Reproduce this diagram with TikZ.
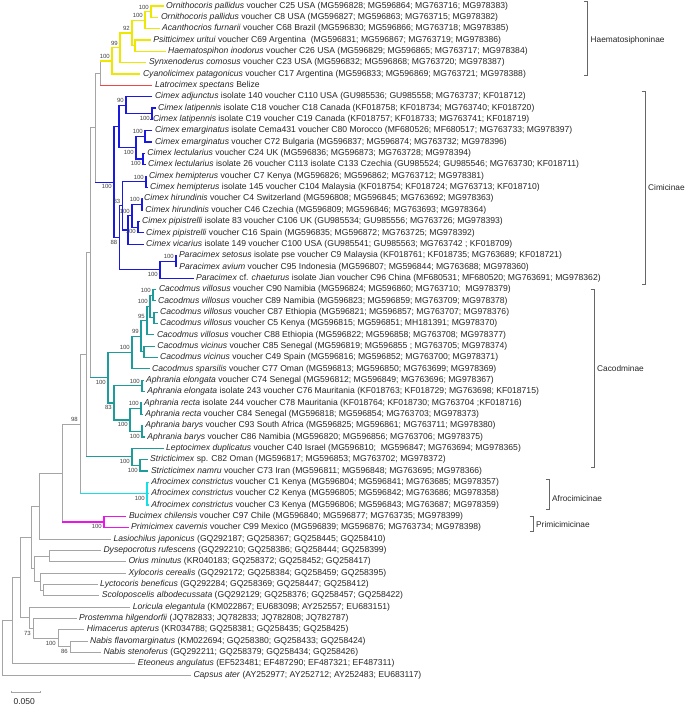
\documentclass[tikz,border=0pt]{standalone}
\usepackage{fontspec}
\setmainfont{Liberation Sans}
\usetikzlibrary{calc, positioning}
\definecolor{haemyel}{RGB}{238,232,0}
\definecolor{latred}{RGB}{240,70,70}
\definecolor{cimblue}{RGB}{25,25,225}
\definecolor{cacteal}{RGB}{30,155,155}
\definecolor{afrcyan}{RGB}{20,225,230}
\definecolor{primag}{RGB}{235,20,235}
\definecolor{treegray}{RGB}{165,165,165}

% leaf: row, x where its text starts, text
\newcommand\leaf[3]{\node[leaf] (l#1) at ({#2-2.5},{6+(#1-1)*11.34}) {#3};}
% join: name, x, upper child, lower child, style
\newcommand\jn[5]{%
  \coordinate (#1-m) at ($(#3)!.5!(#4)$);
  \coordinate (#1) at (#2,0 |- #1-m);
  \draw[#5] (#3) -- (#3 -| #1) -- (#4 -| #1) -- (#4);}
% bootstrap value above / below the branch
\newcommand\bsu[3]{\node[bs, above left=2.4pt and 2pt of #2] (#1) {#3};}
\newcommand\bsd[3]{\node[bs, below left=2.4pt and 2pt of #2] (#1) {#3};}

\begin{document}
\begin{tikzpicture}[x=1pt, y=-1pt,
    leaf/.style={anchor=west, inner xsep=2.5pt, inner ysep=0pt,
                 text height=6.2pt, text depth=1.8pt,
                 font=\fontsize{8.6}{10}\selectfont, text=black!85},
    bs/.style={inner sep=0pt, font=\fontsize{6}{7}\selectfont, text=black!75},
    clade/.style={anchor=west, inner sep=0pt, font=\fontsize{8.3}{10}\selectfont, text=black!85},
    gr/.style={draw=treegray, line width=0.75pt},
    hae/.style={draw=haemyel, line width=1.2pt},
    lto/.style={draw=latred, line width=1.2pt},
    cim/.style={draw=cimblue, line width=1.2pt},
    cac/.style={draw=cacteal, line width=1.2pt},
    afr/.style={draw=afrcyan, line width=1.2pt},
    pri/.style={draw=primag, line width=1.2pt},
    brk/.style={draw=black!60, line width=0.6pt}
  ]
  \useasboundingbox (0,0) rectangle (685,706);

  % taxa
  \leaf{1}{166}{\textit{Ornithocoris pallidus} voucher C25 USA (MG596828; MG596864; MG763716; MG978383)}
  \leaf{2}{160.8}{\textit{Ornithocoris pallidus} voucher C8 USA (MG596827; MG596863; MG763715; MG978382)}
  \leaf{3}{162}{\textit{Acanthocrios furnarii} voucher C68 Brazil (MG596830; MG596866; MG763718; MG978385)}
  \leaf{4}{153.2}{\textit{Psitticimex uritui} voucher C69 Argentina\ \ (MG596831; MG596867; MG763719; MG978386)}
  \leaf{5}{168}{\textit{Haematospihon inodorus} voucher C26 USA (MG596829; MG596865; MG763717; MG978384)}
  \leaf{6}{148.8}{\textit{Synxenoderus comosus} voucher C23 USA (MG596832; MG596868; MG763720; MG978387)}
  \leaf{7}{142.8}{\textit{Cyanolicimex patagonicus} voucher C17 Argentina (MG596833; MG596869; MG763721; MG978388)}
  \leaf{8}{154.8}{\textit{Latrocimex spectans} Belize}
  \leaf{9}{154.8}{\textit{Cimex adjunctus} isolate 140 voucher C110 USA (GU985536; GU985558; MG763737; KF018712)}
  \leaf{10}{158}{\textit{Cimex latipennis} isolate C18 voucher C18 Canada (KF018758; KF018734; MG763740; KF018720)}
  \leaf{11}{152.8}{\textit{Cimex latipennis} isolate C19 voucher C19 Canada (KF018757; KF018733; MG763741; KF018719)}
  \leaf{12}{154.8}{\textit{Cimex emarginatus} isolate Cema431 voucher C80 Morocco (MF680526; MF680517; MG763733; MG978397)}
  \leaf{13}{154.8}{\textit{Cimex emarginatus} voucher C72 Bulgaria (MG596837; MG596874; MG763732; MG978396)}
  \leaf{14}{147.2}{\textit{Cimex lectularius} voucher C24 UK (MG596836; MG596873; MG763728; MG978394)}
  \leaf{15}{148}{\textit{Cimex lectularius} isolate 26 voucher C113 isolate C133 Czechia (GU985524; GU985546; MG763730; KF018711)}
  \leaf{16}{148.8}{\textit{Cimex hemipterus} voucher C7 Kenya (MG596826; MG596862; MG763712; MG978381)}
  \leaf{17}{150}{\textit{Cimex hemipterus} isolate 145 voucher C104 Malaysia (KF018754; KF018724; MG763713; KF018710)}
  \leaf{18}{144}{\textit{Cimex hirundinis} voucher C4 Switzerland (MG596808; MG596845; MG763692; MG978363)}
  \leaf{19}{145.2}{\textit{Cimex hirundinis} voucher C46 Czechia (MG596809; MG596846; MG763693; MG978364)}
  \leaf{20}{142}{\textit{Cimex pipistrelli} isolate 83 voucher C106 UK (GU985534; GU985556; MG763726; MG978393)}
  \leaf{21}{146}{\textit{Cimex pipistrelli} voucher C16 Spain (MG596835; MG596872; MG763725; MG978392)}
  \leaf{22}{146}{\textit{Cimex vicarius} isolate 149 voucher C100 USA (GU985541; GU985563; MG763742 ; KF018709)}
  \leaf{23}{178.8}{\textit{Paracimex setosus} isolate pse voucher C9 Malaysia (KF018761; KF018735; MG763689; KF018721)}
  \leaf{24}{179.2}{\textit{Paracimex avium} voucher C95 Indonesia (MG596807; MG596844; MG763688; MG978360)}
  \leaf{25}{196}{\textit{Paracimex} cf. \textit{chaeturus} isolate Jian voucher C96 China (MF680531; MF680520; MG763691; MG978362)}
  \leaf{26}{158.8}{\textit{Cacodmus villosus} voucher C90 Namibia (MG596824; MG596860; MG763710;\ \ MG978379)}
  \leaf{27}{158}{\textit{Cacodmus villosus} voucher C89 Namibia (MG596823; MG596859; MG763709; MG978378)}
  \leaf{28}{160}{\textit{Cacodmus villosus} voucher C87 Ethiopia (MG596821; MG596857; MG763707; MG978376)}
  \leaf{29}{160}{\textit{Cacodmus villosus} voucher C5 Kenya (MG596815; MG596851; MH181391; MG978370)}
  \leaf{30}{156.8}{\textit{Cacodmus villosus} voucher C88 Ethiopia (MG596822; MG596858; MG763708; MG978377)}
  \leaf{31}{157.2}{\textit{Cacodmus vicinus} voucher C85 Senegal (MG596819; MG596855 ; MG763705; MG978374)}
  \leaf{32}{160}{\textit{Cacodmus vicinus} voucher C49 Spain (MG596816; MG596852; MG763700; MG978371)}
  \leaf{33}{152}{\textit{Cacodmus sparsilis} voucher C77 Oman (MG596813; MG596850; MG763699; MG978369)}
  \leaf{34}{146}{\textit{Aphrania elongata} voucher C74 Senegal (MG596812; MG596849; MG763696; MG978367)}
  \leaf{35}{147.2}{\textit{Aphrania elongata} isolate 243 voucher C76 Mauritania (KF018763; KF018729; MG763698; KF018715)}
  \leaf{36}{144}{\textit{Aphrania recta} isolate 244 voucher C78 Mauritania (KF018764; KF018730; MG763704 ;KF018716)}
  \leaf{37}{145.2}{\textit{Aphrania recta} voucher C84 Senegal (MG596818; MG596854; MG763703; MG978373)}
  \leaf{38}{145.2}{\textit{Aphrania barys} voucher C93 South Africa (MG596825; MG596861; MG763711; MG978380)}
  \leaf{39}{147.2}{\textit{Aphrania barys} voucher C86 Namibia (MG596820; MG596856; MG763706; MG978375)}
  \leaf{40}{166}{\textit{Leptocimex duplicatus} voucher C40 Israel (MG596810;\ \ MG596847; MG763694; MG978365)}
  \leaf{41}{150}{\textit{Stricticimex} sp. C82 Oman (MG596817; MG596853; MG763702; MG978372)}
  \leaf{42}{150.8}{\textit{Stricticimex namru} voucher C73 Iran (MG596811; MG596848; MG763695; MG978366)}
  \leaf{43}{151.2}{\textit{Afrocimex constrictus} voucher C1 Kenya (MG596804; MG596841; MG763685; MG978357)}
  \leaf{44}{151.2}{\textit{Afrocimex constrictus} voucher C2 Kenya (MG596805; MG596842; MG763686; MG978358)}
  \leaf{45}{151.2}{\textit{Afrocimex constrictus} voucher C3 Kenya (MG596806; MG596843; MG763687; MG978359)}
  \leaf{46}{128.8}{\textit{Bucimex chilensis} voucher C97 Chile (MG596840; MG596877; MG763735; MG978399)}
  \leaf{47}{131}{\textit{Primicimex cavernis} voucher C99 Mexico (MG596839; MG596876; MG763734; MG978398)}
  \leaf{48}{113.3}{\textit{Lasiochilus japonicus} (GQ292187; GQ258367; GQ258445; GQ258410)}
  \leaf{49}{103.3}{\textit{Dysepocrotus rufescens} (GQ292210; GQ258386; GQ258444; GQ258399)}
  \leaf{50}{128.3}{\textit{Orius minutus} (KR040183; GQ258372; GQ258452; GQ258417)}
  \leaf{51}{128.3}{\textit{Xylocoris cerealis} (GQ292172; GQ258384; GQ258459; GQ258395)}
  \leaf{52}{100}{\textit{Lyctocoris beneficus} (GQ292284; GQ258369; GQ258447; GQ258412)}
  \leaf{53}{101.7}{\textit{Scoloposcelis albodecussata} (GQ292129; GQ258376; GQ258457; GQ258422)}
  \leaf{54}{132.7}{\textit{Loricula elegantula} (KM022867; EU683098; AY252557; EU683151)}
  \leaf{55}{79}{\textit{Prostemma hilgendorfii} (JQ782833; JQ782833; JQ782808; JQ782787)}
  \leaf{56}{86.7}{\textit{Himacerus apterus} (KR034788; GQ258381; GQ258435; GQ258425)}
  \leaf{57}{90}{\textit{Nabis flavomarginatus} (KM022694; GQ258380; GQ258433; GQ258424)}
  \leaf{58}{103.3}{\textit{Nabis stenoferus} (GQ292211; GQ258379; GQ258434; GQ258426)}
  \leaf{59}{137.7}{\textit{Eteoneus angulatus} (EF523481; EF487290; EF487321; EF487311)}
  \leaf{60}{193.3}{\textit{Capsus ater} (AY252977; AY252712; AY252483; EU683117)}

  % Haematosiphoninae
  \jn{n1}{151}{l1.west}{l2.west}{hae}
  \jn{n2}{145}{n1}{l3.west}{hae}
  \jn{n3b}{135}{l4.west}{l5.west}{hae}
  \jn{n3}{132}{n2}{n3b}{hae}
  \jn{n4}{120}{n3}{l6.west}{hae}
  \jn{n5}{112}{n4}{l7.west}{hae}
  \jn{n6}{100}{n5}{l8.west}{gr}
  \draw[hae] (n5 -| n6) -- (n5);
  \draw[lto] (l8.west -| n6) -- (l8.west);

  % Cimicinae
  \jn{ltp}{152}{l10.west}{l11.west}{cim}
  \jn{na}{126}{l9.west}{ltp}{cim}
  \jn{em}{145}{l12.west}{l13.west}{cim}
  \jn{le}{143}{l14.west}{l15.west}{cim}
  \jn{el}{136}{em}{le}{cim}
  \jn{ca}{119}{na}{el}{cim}
  \jn{he}{146}{l16.west}{l17.west}{cim}
  \jn{hi}{142}{l18.west}{l19.west}{cim}
  \jn{pi}{138}{l20.west}{l21.west}{cim}
  \jn{hp}{132}{hi}{pi}{cim}
  \jn{wv}{128}{hp}{l22.west}{cim}
  \jn{yh}{122.5}{he}{wv}{cim}
  \jn{ps}{176}{l23.west}{l24.west}{cim}
  \jn{pc}{160}{ps}{l25.west}{cim}
  \jn{q2}{119.5}{yh}{pc}{cim}
  \jn{c0}{114}{ca}{q2}{cim}

  % Cacodminae
  \jn{v1}{153}{l26.west}{l27.west}{cac}
  \jn{v2}{154}{l28.west}{l29.west}{cac}
  \jn{v12}{150}{v1}{v2}{cac}
  \jn{v3}{147}{v12}{l30.west}{cac}
  \jn{vi}{144}{l31.west}{l32.west}{cac}
  \jn{v4}{141}{v3}{vi}{cac}
  \jn{v6}{132}{v4}{l33.west}{cac}
  \jn{ae}{142}{l34.west}{l35.west}{cac}
  \jn{ar}{141}{l36.west}{l37.west}{cac}
  \jn{ab}{142}{l38.west}{l39.west}{cac}
  \jn{arb}{130}{ar}{ab}{cac}
  \jn{aph}{114}{ae}{arb}{cac}
  \jn{k}{108}{v6}{aph}{cac}
  \jn{st}{140}{l41.west}{l42.west}{cac}
  \jn{ls}{132}{l40.west}{st}{cac}

  % Afrocimicinae, Primicimicinae
  \jn{af}{147}{l43.west}{l45.west}{afr}
  \draw[afr] (l44.west -| af) -- (l44.west);
  \jn{pr}{104}{l46.west}{l47.west}{pri}

  % backbone and outgroups
  \jn{g0}{95}{n6}{c0}{gr}
  \draw[cim] (c0 -| g0) -- (c0);
  \jn{g1}{90}{g0}{k}{gr}
  \draw[cac] (k -| g1) -- (k);
  \jn{u}{86}{g1}{ls}{gr}
  \draw[cac] (ls -| u) -- (ls);
  \jn{t}{80}{u}{af}{gr}
  \draw[afr] (af -| t) -- (af);
  \jn{cm}{62}{t}{pr}{gr}
  \draw[pri] (pr -| cm) -- (pr);
  \jn{la}{39}{cm}{l48.west}{gr}
  \jn{do}{49}{l49.west}{l50.west}{gr}
  \jn{ls2}{43}{l52.west}{l53.west}{gr}
  \jn{xl}{40}{l51.west}{ls2}{gr}
  \jn{dx}{34}{do}{xl}{gr}
  \jn{xx}{31}{la}{dx}{gr}
  \jn{nb}{70}{l57.west}{l58.west}{gr}
  \jn{hn}{58}{l56.west}{nb}{gr}
  \jn{ph}{33}{l55.west}{hn}{gr}
  \jn{lp}{29}{l54.west}{ph}{gr}
  \jn{r2}{20}{xx}{lp}{gr}
  \jn{r1}{12}{r2}{l59.west}{gr}
  \jn{r0}{2}{r1}{l60.west}{gr}

  % bootstrap values
  \bsu{b1}{n1}{100}
  \bsu{b2}{n2}{100}
  \bsu{b3}{n3}{92}
  \bsu{b4}{n4}{99}
  \bsu{b5}{n5}{100}
  \bsu{b6}{na}{90}
  \bsd{b7}{ltp}{100}
  \bsu{b8}{em}{100}
  \bsd{b9}{el}{100}
  \bsd{b10}{le}{100}
  \bsu{b11}{he}{100}
  \bsd{b12}{c0}{100}
  \bsu{b13}{yh}{83}
  \bsu{b14}{hi}{100}
  \bsu{b15}{hp}{100}
  \bsd{b16}{pi}{100}
  \bsd{b17}{q2}{88}
  \bsu{b18}{ps}{100}
  \bsd{b19}{pc}{100}
  \bsu{b20}{v1}{100}
  \bsu{b21}{v12}{100}
  \bsu{b22}{v3}{95}
  \bsu{b23}{v4}{99}
  \bsu{b24}{v6}{100}
  \bsu{b25}{ae}{100}
  \bsd{b26}{k}{100}
  \bsu{b27}{ar}{100}
  \bsd{b28}{aph}{83}
  \bsu{b29}{t}{98}
  \bsd{b30}{arb}{100}
  \bsd{b31}{ab}{100}
  \bsd{b32}{ls}{100}
  \bsd{b33}{st}{100}
  \bsd{b34}{af}{100}
  \bsd{b35}{pr}{100}
  \bsd{b36}{ph}{73}
  \bsd{b37}{hn}{100}
  \bsd{b38}{nb}{86}

  % subfamily brackets
  \draw[brk] (584,1.7) -- (587.5,1.7) -- (587.5,75.4) -- (584,75.4);
  \node[clade] (haem) at (590.5,40) {Haematosiphoninae};
  \draw[brk] (641.5,91) -- (645,91) -- (645,284.3) -- (641.5,284.3);
  \node[clade] (cimi) at (648,188) {Cimicinae};
  \draw[brk] (590.5,289) -- (594,289) -- (594,467.5) -- (590.5,467.5);
  \node[clade] (caco) at (597,369) {Cacodminae};
  \draw[brk] (545.5,479.7) -- (549,479.7) -- (549,509.3) -- (545.5,509.3);
  \node[clade] (afro) at (552,498.8) {Afrocimicinae};
  \draw[brk] (529.5,516) -- (533,516) -- (533,531) -- (529.5,531);
  \node[clade] (prim) at (536,525) {Primicimicinae};

  % scale bar
  \draw[gr] (11.7,690.5) -- (11.7,692) -- (40,692) -- (40,690.5);
  \node[inner sep=0pt, font=\fontsize{8.5}{10}\selectfont, text=black!85] (sc) at (24.2,701.3) {0.050};
\end{tikzpicture}
\end{document}
